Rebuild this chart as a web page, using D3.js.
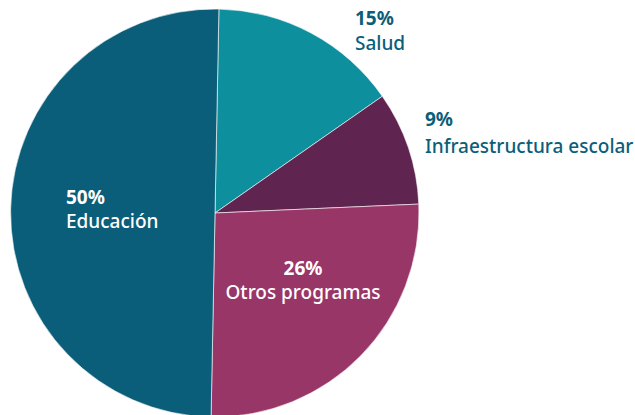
<!DOCTYPE html>
<html>
<head>
<meta charset="utf-8">
<script src="https://cdn.jsdelivr.net/npm/d3@7"></script>
<style>
  body { margin: 0; background: #fff; }
  text { font-family: "Noto Sans", sans-serif; }
</style>
</head>
<body>
<svg></svg>
<script>
// datos del gráfico
const categories = ["Salud", "Infraestructura escolar", "Otros programas", "Educación"];
const values = [15, 9, 26, 50];
const colors = ["#0d8f9d", "#5f2550", "#993668", "#0b5e79"];

const svg = d3.select("svg").attr("width", 635).attr("height", 415);

const cx = 215, cy = 213, r = 204;
const offset = 1.1 * Math.PI / 180;

const pie = d3.pie().sort(null).value(d => d.value)
    .startAngle(offset).endAngle(2 * Math.PI + offset);
const arc = d3.arc().innerRadius(0).outerRadius(r);

const data = categories.map((c, i) => ({ name: c, value: values[i], color: colors[i] }));

const g = svg.append("g").attr("transform", `translate(${cx},${cy})`);
g.selectAll("path")
    .data(pie(data))
    .enter().append("path")
    .attr("d", arc)
    .attr("fill", d => d.data.color)
    .attr("stroke", "#fff")
    .attr("stroke-width", 0.6);

// posiciones de las etiquetas (absolutas)
const labelPos = [
    { x: 355, y: 25, dy: 25, anchor: "start", fill: "#0b5e79" },
    { x: 425, y: 126, dy: 27, anchor: "start", fill: "#0b5e79" },
    { x: 303, y: 275, dy: 24, anchor: "middle", fill: "#fff" },
    { x: 66, y: 204, dy: 24, anchor: "start", fill: "#fff" }
];

data.forEach((d, i) => {
    const p = labelPos[i];
    const t = svg.append("text")
        .attr("x", p.x).attr("y", p.y)
        .attr("text-anchor", p.anchor)
        .attr("fill", p.fill)
        .style("font-size", "19px");
    t.append("tspan").attr("x", p.x).style("font-weight", 700).text(d.value + "%");
    t.append("tspan").attr("x", p.x).attr("dy", p.dy).style("font-weight", 500).text(d.name);
});
</script>
</body>
</html>
